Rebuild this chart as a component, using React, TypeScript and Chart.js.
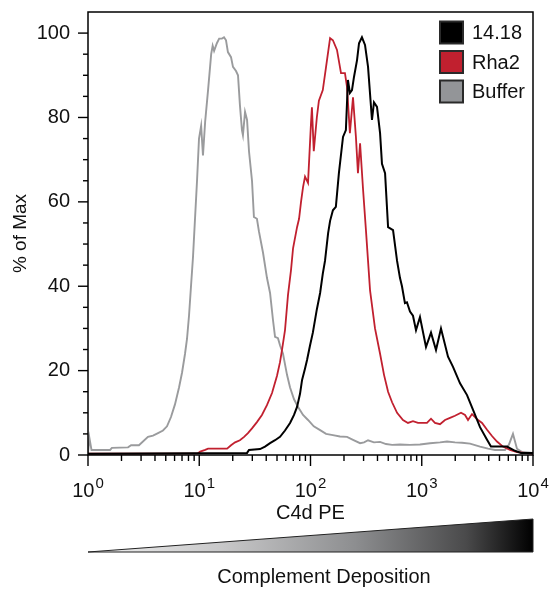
import React, { useEffect, useRef } from 'react';
import { Chart, registerables } from 'chart.js';

Chart.register(...registerables);

const FONT = '"Liberation Sans", Arial, Helvetica, sans-serif';

const SERIES_LABELS = ['14.18', 'Rha2', 'Buffer'];
const SERIES_COLORS = ['#000000', '#c1202f', '#9a9b9d'];
const LEGEND_FILLS = ['#000000', '#c1202f', '#939598'];

const X_1418 = [1, 26.9, 28.0, 35.2, 39.0, 43.3, 48.0, 53.2, 59.0, 65.5, 71.1, 75.7, 80.5, 84.0, 89.3, 93.1, 99.1, 105, 114, 122, 129, 135, 144, 150, 159, 169, 180, 196, 208, 217, 226, 236, 246, 262, 273, 290, 309, 329, 357, 372, 396, 422, 439, 468, 498, 552, 600, 637, 664, 706, 736, 784, 834, 888, 964, 1092, 1211, 1343, 1489, 1722, 1910, 2208, 2553, 2891, 3340, 3863, 4188, 5834, 6887, 7800, 10000];
const Y_1418 = [0.3, 0.5, 1.2, 1.4, 2.0, 2.8, 3.5, 4.3, 5.8, 7.6, 9.5, 11.4, 14.5, 17.8, 20.5, 22.5, 26, 29, 34.5, 38.4, 43, 46, 52.6, 55.5, 58, 58.8, 66.8, 75.4, 77, 88.9, 85.8, 86.5, 89.6, 93.6, 97.6, 99, 97.2, 92, 79.4, 83.6, 82.5, 76.3, 69, 66.8, 54, 53.3, 46, 42, 40, 36, 36.2, 34, 33, 29.6, 32.7, 25.6, 29, 24.9, 30, 23.3, 20.9, 17, 14.2, 10.7, 6.6, 3.6, 2.0, 2.0, 1.0, 0.5, 0.5];

const X_RHA2 = [1, 9.75, 10.2, 11.3, 12.0, 17.8, 19.3, 21.0, 23.2, 25.3, 27.4, 29.8, 33.0, 36.6, 40.6, 45.1, 50.0, 53.2, 55.5, 59.0, 62.8, 66.8, 69.7, 75.7, 78.9, 82.2, 85.7, 89.3, 95.0, 101, 103, 107, 114, 119, 129, 138, 144, 150, 159, 173, 188, 204, 213, 226, 241, 256, 267, 279, 297, 315, 329, 343, 380, 422, 458, 498, 541, 600, 678, 752, 834, 925, 1026, 1114, 1211, 1315, 1459, 1618, 1795, 1990, 2254, 2449, 2606, 2830, 3139, 3483, 3863, 4279, 4745, 5370, 6210, 7178, 10000];
const Y_RHA2 = [0.3, 0.4, 0.8, 1.2, 1.5, 1.5, 2.3, 3.0, 3.5, 4.3, 5.2, 6.3, 7.8, 9.5, 11.8, 14.7, 18.8, 22, 25, 29.6, 38, 43.8, 49, 54, 56, 60, 63.5, 66, 64.5, 78.6, 82.4, 72, 80, 84, 86.5, 92, 95.5, 98.8, 98.3, 96, 90.5, 90.5, 87.2, 76.3, 84.8, 75.4, 66.8, 73.9, 62.8, 53.3, 46, 39, 30, 24, 19, 15, 12.5, 10, 8.3, 7.6, 8.0, 7.6, 7.6, 7.6, 8.6, 7.6, 7.3, 8.3, 8.8, 9.3, 10, 9.5, 8.3, 9.7, 8.5, 7.6, 6.0, 4.5, 3.2, 2.0, 1.2, 0.7, 0.3];

const X_BUFFER = [1, 1.03, 1.075, 1.58, 1.64, 2.29, 2.44, 2.87, 3.46, 3.84, 4.26, 4.72, 5.13, 5.57, 6.05, 6.58, 7.0, 7.45, 7.76, 8.09, 8.43, 8.79, 9.16, 9.55, 9.95, 10.4, 10.8, 11.3, 12.0, 12.8, 13.2, 13.6, 14.4, 15.1, 16.0, 16.7, 17.4, 18.1, 19.3, 20.1, 21.4, 22.3, 23.2, 24.2, 24.7, 25.8, 26.9, 28.0, 29.8, 31.0, 33.0, 34.4, 37.4, 40.6, 43.3, 46.0, 48.0, 51.0, 53.2, 56.6, 61.5, 65.5, 71.1, 77.3, 85.7, 95.0, 107, 122, 138, 159, 184, 213, 241, 279, 303, 329, 372, 422, 477, 541, 637, 784, 964, 1186, 1459, 1687, 1990, 2301, 2716, 3340, 3945, 4553, 5600, 6085, 6607, 7178, 7965, 10000];
const Y_BUFFER = [0.5, 4, 1.2, 1.2, 1.7, 1.8, 2.3, 2.3, 4.3, 4.6, 5.2, 5.8, 6.8, 9, 12, 16, 19.5, 24, 27.5, 33, 40, 47, 56, 65, 75, 78, 71, 79, 86.5, 95, 97, 95.8, 97.6, 98.7, 98.7, 99, 98.3, 95.5, 94.3, 92, 91, 90, 83, 77, 75.8, 81.3, 79.4, 72, 65, 56.4, 56, 53, 48, 42, 38.4, 32, 28, 27.7, 26, 24, 19, 16, 13.2, 11.4, 9.5, 8.3, 6.8, 5.9, 5.0, 4.7, 4.4, 4.3, 3.6, 2.8, 3.0, 3.5, 3.0, 3.1, 2.6, 2.4, 2.5, 2.4, 2.5, 2.8, 3.0, 3.2, 3.0, 2.9, 2.7, 2.0, 1.5, 1.2, 1.2, 2.5, 5.0, 1.5, 0.7, 0.5];

const Y_TICKS = [0, 20, 40, 60, 80, 100];
const Y_MINOR_STEP = 5;
const X_DECADE_EXPONENTS = [0, 1, 2, 3, 4];
const X_MINOR_MULTIPLIERS = [2, 3, 4, 5, 6, 7, 8, 9];
const X_TITLE = 'C4d PE';
const Y_TITLE = '% of Max';
const GRADIENT_LABEL = 'Complement Deposition';

function pairs(xs: number[], ys: number[]) {
  return xs.map((x, i) => ({ x, y: ys[i] }));
}

const decorPlugin = {
  id: 'decor',
  afterDraw(chart: any) {
    const { ctx, chartArea: ca, scales } = chart;
    const x = scales.x;
    const y = scales.y;
    ctx.save();

    // frame
    ctx.strokeStyle = '#000';
    ctx.lineWidth = 1.5;
    ctx.strokeRect(ca.left, ca.top, ca.right - ca.left, ca.bottom - ca.top);

    // y ticks
    ctx.lineWidth = 1.4;
    const yMax = Y_TICKS[Y_TICKS.length - 1];
    for (let v = 0; v <= yMax; v += Y_MINOR_STEP) {
      const py = y.getPixelForValue(v);
      const len = Y_TICKS.includes(v) ? 10 : 5;
      ctx.beginPath();
      ctx.moveTo(ca.left, py);
      ctx.lineTo(ca.left - len, py);
      ctx.stroke();
    }

    // x ticks
    X_DECADE_EXPONENTS.forEach((e, idx) => {
      const major = Math.pow(10, e);
      const px = x.getPixelForValue(major);
      ctx.beginPath();
      ctx.moveTo(px, ca.bottom);
      ctx.lineTo(px, ca.bottom + 11);
      ctx.stroke();
      if (idx < X_DECADE_EXPONENTS.length - 1) {
        X_MINOR_MULTIPLIERS.forEach((m) => {
          const mx = x.getPixelForValue(m * major);
          ctx.beginPath();
          ctx.moveTo(mx, ca.bottom);
          ctx.lineTo(mx, ca.bottom + 6);
          ctx.stroke();
        });
      }
    });

    // x tick labels: 10^e
    ctx.fillStyle = '#111';
    ctx.textBaseline = 'alphabetic';
    ctx.textAlign = 'left';
    X_DECADE_EXPONENTS.forEach((e) => {
      const px = x.getPixelForValue(Math.pow(10, e));
      ctx.font = `20px ${FONT}`;
      const w1 = ctx.measureText('10').width;
      ctx.font = `15px ${FONT}`;
      const sup = String(e);
      const w2 = ctx.measureText(sup).width;
      const start = px - (w1 + w2 + 1) / 2;
      ctx.font = `20px ${FONT}`;
      ctx.fillText('10', start, 497);
      ctx.font = `15px ${FONT}`;
      ctx.fillText(sup, start + w1 + 1, 488);
    });

    // legend
    ctx.font = `20px ${FONT}`;
    ctx.textBaseline = 'middle';
    SERIES_LABELS.forEach((label, i) => {
      const bx = ca.right - 93;
      const by = ca.top + 9.5 + i * 29.5;
      ctx.fillStyle = LEGEND_FILLS[i];
      ctx.fillRect(bx, by, 23, 22);
      ctx.strokeStyle = '#2a2a2a';
      ctx.lineWidth = 2;
      ctx.strokeRect(bx, by, 23, 22);
      ctx.fillStyle = '#111';
      ctx.fillText(label, ca.right - 61, by + 12);
    });

    // gradient triangle
    const tTop = 519;
    const tBottom = 552;
    const grad = ctx.createLinearGradient(ca.left, 0, ca.right, 0);
    grad.addColorStop(0, '#f0f0f0');
    grad.addColorStop(0.3, '#c8c8c9');
    grad.addColorStop(0.6, '#8d8e90');
    grad.addColorStop(0.85, '#4a4a4b');
    grad.addColorStop(1, '#000');
    ctx.beginPath();
    ctx.moveTo(ca.left, tBottom);
    ctx.lineTo(ca.right, tTop);
    ctx.lineTo(ca.right, tBottom);
    ctx.closePath();
    ctx.fillStyle = grad;
    ctx.fill();
    ctx.strokeStyle = '#222';
    ctx.lineWidth = 1;
    ctx.stroke();

    ctx.fillStyle = '#111';
    ctx.font = `20px ${FONT}`;
    ctx.textAlign = 'center';
    ctx.textBaseline = 'alphabetic';
    ctx.fillText(GRADIENT_LABEL, 324, 583);
    ctx.restore();
  },
};

export default function App() {
  const ref = useRef<HTMLCanvasElement | null>(null);
  useEffect(() => {
    if (!ref.current) return;
    Chart.defaults.font.family = FONT;
    const chart = new Chart(ref.current, {
      type: 'line',
      data: {
        datasets: [
          { label: SERIES_LABELS[0], data: pairs(X_1418, Y_1418), borderColor: SERIES_COLORS[0], borderWidth: 2 },
          { label: SERIES_LABELS[1], data: pairs(X_RHA2, Y_RHA2), borderColor: SERIES_COLORS[1], borderWidth: 1.8 },
          { label: SERIES_LABELS[2], data: pairs(X_BUFFER, Y_BUFFER), borderColor: SERIES_COLORS[2], borderWidth: 1.9 },
        ].map((d) => ({ ...d, pointRadius: 0, tension: 0, fill: false })),
      },
      options: {
        responsive: false,
        animation: false,
        parsing: false,
        layout: { padding: { top: 12, right: 20, left: 0, bottom: 0 } },
        plugins: { legend: { display: false }, tooltip: { enabled: false } },
        scales: {
          x: {
            type: 'logarithmic',
            min: 1,
            max: 10000,
            grid: { display: false, drawTicks: false },
            border: { display: false },
            ticks: { display: false },
            title: {
              display: true,
              text: X_TITLE,
              color: '#111',
              font: { size: 20, family: FONT },
              padding: { top: 0, bottom: 64 },
            },
            afterFit: (s: any) => {
              s.height = 134;
              s.paddingLeft = 0;
              s.paddingRight = 0;
            },
          },
          y: {
            type: 'linear',
            min: 0,
            max: 105,
            afterBuildTicks: (s: any) => {
              s.ticks = Y_TICKS.map((v) => ({ value: v }));
            },
            grid: { display: false, drawTicks: false },
            border: { display: false },
            ticks: { padding: 18, color: '#111', font: { size: 20, family: FONT } },
            title: {
              display: true,
              text: Y_TITLE,
              color: '#111',
              font: { size: 19, family: FONT },
              padding: { top: 9, bottom: 0 },
            },
            afterFit: (s: any) => {
              s.width = 88;
              s.paddingTop = 0;
              s.paddingBottom = 0;
            },
          },
        },
      },
      plugins: [decorPlugin],
    } as any);
    return () => chart.destroy();
  }, []);
  return (
    <div style={{ position: 'absolute', left: 0, top: 0, width: 553, height: 589, background: '#fff' }}>
      <canvas ref={ref} width={553} height={589} style={{ display: 'block', width: 553, height: 589 }} />
    </div>
  );
}
